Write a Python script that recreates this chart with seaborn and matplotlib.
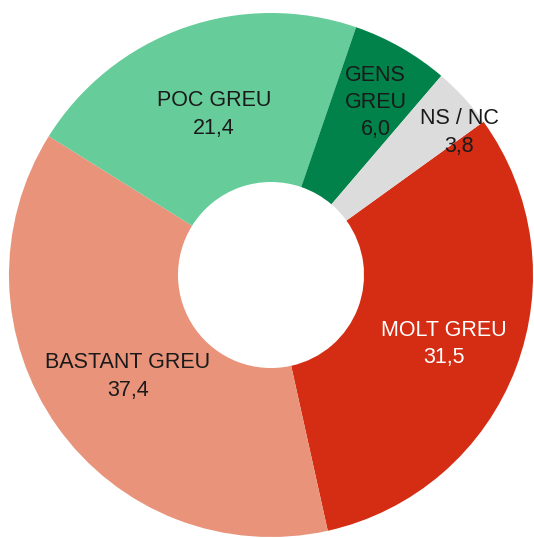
import numpy as np
import matplotlib
matplotlib.use("Agg")
import matplotlib.pyplot as plt
import seaborn as sns

categories = ["MOLT GREU", "BASTANT GREU", "POC GREU", "GENS\nGREU", "NS / NC"]
values = [31.5, 37.4, 21.4, 6.0, 3.8]
value_labels = ["31,5", "37,4", "21,4", "6,0", "3,8"]

colors = ["#D42D14", "#E8937A", "#66CC99", "#00824A", "#DCDCDC"]
text_colors = ["white", "#1a1a1a", "#1a1a1a", "#1a1a1a", "#1a1a1a"]
label_dist = [0.71, 0.67, 0.65, 0.77, 0.90]
label_rot = [-1.0, 0, 0, -1.5, -5.5]

sns.set_theme(style="white")
plt.rcParams["font.family"] = ["Liberation Sans", "DejaVu Sans"]

W, H = 534, 538
fig = plt.figure(figsize=(W / 100, H / 100), dpi=100)
cx, cy, R = 271, 275, 262
ax = fig.add_axes([(cx - R) / W, (H - cy - R) / H, 2 * R / W, 2 * R / H])

wedges, _ = ax.pie(values, colors=sns.color_palette(colors), startangle=35.8,
                   counterclock=False, radius=1.0,
                   wedgeprops=dict(width=0.645, linewidth=0, edgecolor="none"))
ax.set_xlim(-1, 1)
ax.set_ylim(-1, 1)
ax.set_aspect("equal")
ax.axis("off")

for w, cat, val, tc, d, r in zip(wedges, categories, value_labels, text_colors,
                                 label_dist, label_rot):
    mid = np.deg2rad((w.theta1 + w.theta2) / 2 + r)
    x, y = d * np.cos(mid), d * np.sin(mid)
    ax.text(x, y, f"{cat}\n{val}", ha="center", va="center", color=tc,
            fontsize=15.5, linespacing=1.4)

fig.savefig("out.png", dpi=100, facecolor="white")
